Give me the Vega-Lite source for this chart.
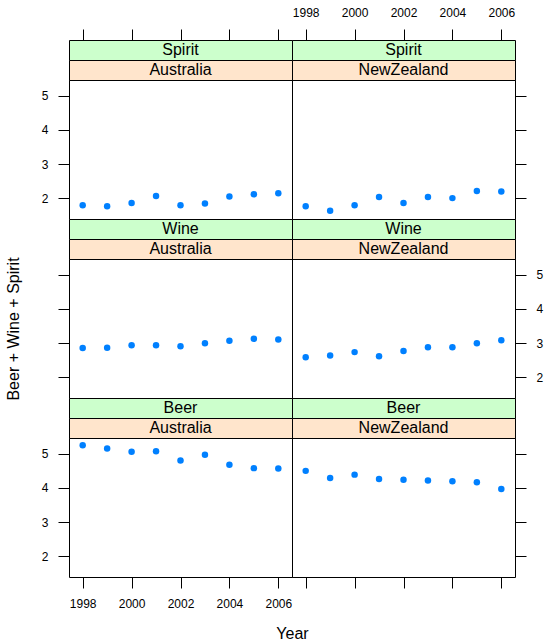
{
  "$schema": "https://vega.github.io/schema/vega-lite/v6.json",
  "padding": {"left": 5, "top": 5, "right": 0, "bottom": 0},
  "background": "white",
  "bounds": "flush",
  "align": "each",
  "spacing": 0,
  "columns": 2,
  "datasets": {
    "d": [
      {"Beverage": "Spirit", "Country": "Australia", "Year": 1998, "Value": 1.80},
      {"Beverage": "Spirit", "Country": "Australia", "Year": 1999, "Value": 1.77},
      {"Beverage": "Spirit", "Country": "Australia", "Year": 2000, "Value": 1.87},
      {"Beverage": "Spirit", "Country": "Australia", "Year": 2001, "Value": 2.07},
      {"Beverage": "Spirit", "Country": "Australia", "Year": 2002, "Value": 1.80},
      {"Beverage": "Spirit", "Country": "Australia", "Year": 2003, "Value": 1.85},
      {"Beverage": "Spirit", "Country": "Australia", "Year": 2004, "Value": 2.06},
      {"Beverage": "Spirit", "Country": "Australia", "Year": 2005, "Value": 2.12},
      {"Beverage": "Spirit", "Country": "Australia", "Year": 2006, "Value": 2.15},
      {"Beverage": "Spirit", "Country": "NewZealand", "Year": 1998, "Value": 1.77},
      {"Beverage": "Spirit", "Country": "NewZealand", "Year": 1999, "Value": 1.64},
      {"Beverage": "Spirit", "Country": "NewZealand", "Year": 2000, "Value": 1.80},
      {"Beverage": "Spirit", "Country": "NewZealand", "Year": 2001, "Value": 2.04},
      {"Beverage": "Spirit", "Country": "NewZealand", "Year": 2002, "Value": 1.87},
      {"Beverage": "Spirit", "Country": "NewZealand", "Year": 2003, "Value": 2.04},
      {"Beverage": "Spirit", "Country": "NewZealand", "Year": 2004, "Value": 2.01},
      {"Beverage": "Spirit", "Country": "NewZealand", "Year": 2005, "Value": 2.22},
      {"Beverage": "Spirit", "Country": "NewZealand", "Year": 2006, "Value": 2.20},
      {"Beverage": "Wine", "Country": "Australia", "Year": 1998, "Value": 2.86},
      {"Beverage": "Wine", "Country": "Australia", "Year": 1999, "Value": 2.87},
      {"Beverage": "Wine", "Country": "Australia", "Year": 2000, "Value": 2.94},
      {"Beverage": "Wine", "Country": "Australia", "Year": 2001, "Value": 2.94},
      {"Beverage": "Wine", "Country": "Australia", "Year": 2002, "Value": 2.91},
      {"Beverage": "Wine", "Country": "Australia", "Year": 2003, "Value": 3.00},
      {"Beverage": "Wine", "Country": "Australia", "Year": 2004, "Value": 3.07},
      {"Beverage": "Wine", "Country": "Australia", "Year": 2005, "Value": 3.13},
      {"Beverage": "Wine", "Country": "Australia", "Year": 2006, "Value": 3.11},
      {"Beverage": "Wine", "Country": "NewZealand", "Year": 1998, "Value": 2.59},
      {"Beverage": "Wine", "Country": "NewZealand", "Year": 1999, "Value": 2.64},
      {"Beverage": "Wine", "Country": "NewZealand", "Year": 2000, "Value": 2.74},
      {"Beverage": "Wine", "Country": "NewZealand", "Year": 2001, "Value": 2.62},
      {"Beverage": "Wine", "Country": "NewZealand", "Year": 2002, "Value": 2.77},
      {"Beverage": "Wine", "Country": "NewZealand", "Year": 2003, "Value": 2.88},
      {"Beverage": "Wine", "Country": "NewZealand", "Year": 2004, "Value": 2.88},
      {"Beverage": "Wine", "Country": "NewZealand", "Year": 2005, "Value": 3.00},
      {"Beverage": "Wine", "Country": "NewZealand", "Year": 2006, "Value": 3.09},
      {"Beverage": "Beer", "Country": "Australia", "Year": 1998, "Value": 5.25},
      {"Beverage": "Beer", "Country": "Australia", "Year": 1999, "Value": 5.15},
      {"Beverage": "Beer", "Country": "Australia", "Year": 2000, "Value": 5.06},
      {"Beverage": "Beer", "Country": "Australia", "Year": 2001, "Value": 5.07},
      {"Beverage": "Beer", "Country": "Australia", "Year": 2002, "Value": 4.80},
      {"Beverage": "Beer", "Country": "Australia", "Year": 2003, "Value": 4.97},
      {"Beverage": "Beer", "Country": "Australia", "Year": 2004, "Value": 4.68},
      {"Beverage": "Beer", "Country": "Australia", "Year": 2005, "Value": 4.58},
      {"Beverage": "Beer", "Country": "Australia", "Year": 2006, "Value": 4.57},
      {"Beverage": "Beer", "Country": "NewZealand", "Year": 1998, "Value": 4.50},
      {"Beverage": "Beer", "Country": "NewZealand", "Year": 1999, "Value": 4.29},
      {"Beverage": "Beer", "Country": "NewZealand", "Year": 2000, "Value": 4.39},
      {"Beverage": "Beer", "Country": "NewZealand", "Year": 2001, "Value": 4.26},
      {"Beverage": "Beer", "Country": "NewZealand", "Year": 2002, "Value": 4.24},
      {"Beverage": "Beer", "Country": "NewZealand", "Year": 2003, "Value": 4.22},
      {"Beverage": "Beer", "Country": "NewZealand", "Year": 2004, "Value": 4.20},
      {"Beverage": "Beer", "Country": "NewZealand", "Year": 2005, "Value": 4.17},
      {"Beverage": "Beer", "Country": "NewZealand", "Year": 2006, "Value": 3.97}
    ]
  },
  "concat": [
    {"width": 223, "height": 20, "data": {"name": "d"},
     "transform": [{"filter": "datum.Beverage === 'Spirit' && datum.Country === 'Australia'"}],
     "view": {"fill": "#CCFFCC", "stroke": "black"},
     "mark": {"type": "text", "fontSize": 16, "font": "Liberation Sans", "color": "black"},
     "encoding": {
       "x": {"aggregate": "mean", "field": "Year", "type": "quantitative", "scale": {"domain": [1997.44, 2006.56], "nice": false, "zero": false},
             "axis": {"orient": "top", "values": [1998, 2000, 2002, 2004, 2006], "labels": false, "title": null}},
       "text": {"field": "Beverage"}}},
    {"width": 223, "height": 20, "data": {"name": "d"},
     "transform": [{"filter": "datum.Beverage === 'Spirit' && datum.Country === 'NewZealand'"}],
     "view": {"fill": "#CCFFCC", "stroke": "black"},
     "mark": {"type": "text", "fontSize": 16, "font": "Liberation Sans", "color": "black"},
     "encoding": {
       "x": {"aggregate": "mean", "field": "Year", "type": "quantitative", "scale": {"domain": [1997.44, 2006.56], "nice": false, "zero": false},
             "axis": {"orient": "top", "values": [1998, 2000, 2002, 2004, 2006], "format": "d", "title": null}},
       "text": {"field": "Beverage"}}},
    {"width": 223, "height": 20, "data": {"name": "d"},
     "transform": [{"filter": "datum.Beverage === 'Spirit' && datum.Country === 'Australia'"}],
     "view": {"fill": "#FFE5CC", "stroke": "black"},
     "mark": {"type": "text", "fontSize": 16, "font": "Liberation Sans", "color": "black"},
     "encoding": {"x": {"aggregate": "mean", "field": "Year", "type": "quantitative", "scale": {"domain": [1997.44, 2006.56], "nice": false, "zero": false}, "axis": null},
       "text": {"field": "Country"}}},
    {"width": 223, "height": 20, "data": {"name": "d"},
     "transform": [{"filter": "datum.Beverage === 'Spirit' && datum.Country === 'NewZealand'"}],
     "view": {"fill": "#FFE5CC", "stroke": "black"},
     "mark": {"type": "text", "fontSize": 16, "font": "Liberation Sans", "color": "black"},
     "encoding": {"x": {"aggregate": "mean", "field": "Year", "type": "quantitative", "scale": {"domain": [1997.44, 2006.56], "nice": false, "zero": false}, "axis": null},
       "text": {"field": "Country"}}},
    {"width": 223, "height": 139, "data": {"name": "d"},
     "transform": [{"filter": "datum.Beverage === 'Spirit' && datum.Country === 'Australia'"}],
     "view": {"stroke": "black"},
     "mark": {"type": "circle", "size": 42, "color": "#0080FF", "opacity": 1},
     "encoding": {
       "x": {"field": "Year", "type": "quantitative", "scale": {"domain": [1997.44, 2006.56], "nice": false, "zero": false}, "axis": null},
       "y": {"field": "Value", "type": "quantitative", "scale": {"domain": [1.4, 5.46], "nice": false, "zero": false},
             "axis": {"orient": "left", "values": [2, 3, 4, 5], "format": "d", "title": null}}}},
    {"width": 223, "height": 139, "data": {"name": "d"},
     "transform": [{"filter": "datum.Beverage === 'Spirit' && datum.Country === 'NewZealand'"}],
     "view": {"stroke": "black"},
     "mark": {"type": "circle", "size": 42, "color": "#0080FF", "opacity": 1},
     "encoding": {
       "x": {"field": "Year", "type": "quantitative", "scale": {"domain": [1997.44, 2006.56], "nice": false, "zero": false}, "axis": null},
       "y": {"field": "Value", "type": "quantitative", "scale": {"domain": [1.4, 5.46], "nice": false, "zero": false},
             "axis": {"orient": "right", "values": [2, 3, 4, 5], "labels": false, "title": null}}}},
    {"width": 223, "height": 20, "data": {"name": "d"},
     "transform": [{"filter": "datum.Beverage === 'Wine' && datum.Country === 'Australia'"}],
     "view": {"fill": "#CCFFCC", "stroke": "black"},
     "mark": {"type": "text", "fontSize": 16, "font": "Liberation Sans", "color": "black"},
     "encoding": {"x": {"aggregate": "mean", "field": "Year", "type": "quantitative", "scale": {"domain": [1997.44, 2006.56], "nice": false, "zero": false}, "axis": null},
       "text": {"field": "Beverage"}}},
    {"width": 223, "height": 20, "data": {"name": "d"},
     "transform": [{"filter": "datum.Beverage === 'Wine' && datum.Country === 'NewZealand'"}],
     "view": {"fill": "#CCFFCC", "stroke": "black"},
     "mark": {"type": "text", "fontSize": 16, "font": "Liberation Sans", "color": "black"},
     "encoding": {"x": {"aggregate": "mean", "field": "Year", "type": "quantitative", "scale": {"domain": [1997.44, 2006.56], "nice": false, "zero": false}, "axis": null},
       "text": {"field": "Beverage"}}},
    {"width": 223, "height": 20, "data": {"name": "d"},
     "transform": [{"filter": "datum.Beverage === 'Wine' && datum.Country === 'Australia'"}],
     "view": {"fill": "#FFE5CC", "stroke": "black"},
     "mark": {"type": "text", "fontSize": 16, "font": "Liberation Sans", "color": "black"},
     "encoding": {"x": {"aggregate": "mean", "field": "Year", "type": "quantitative", "scale": {"domain": [1997.44, 2006.56], "nice": false, "zero": false}, "axis": null},
       "text": {"field": "Country"}}},
    {"width": 223, "height": 20, "data": {"name": "d"},
     "transform": [{"filter": "datum.Beverage === 'Wine' && datum.Country === 'NewZealand'"}],
     "view": {"fill": "#FFE5CC", "stroke": "black"},
     "mark": {"type": "text", "fontSize": 16, "font": "Liberation Sans", "color": "black"},
     "encoding": {"x": {"aggregate": "mean", "field": "Year", "type": "quantitative", "scale": {"domain": [1997.44, 2006.56], "nice": false, "zero": false}, "axis": null},
       "text": {"field": "Country"}}},
    {"width": 223, "height": 139, "data": {"name": "d"},
     "transform": [{"filter": "datum.Beverage === 'Wine' && datum.Country === 'Australia'"}],
     "view": {"stroke": "black"},
     "mark": {"type": "circle", "size": 42, "color": "#0080FF", "opacity": 1},
     "encoding": {
       "x": {"field": "Year", "type": "quantitative", "scale": {"domain": [1997.44, 2006.56], "nice": false, "zero": false}, "axis": null},
       "y": {"field": "Value", "type": "quantitative", "scale": {"domain": [1.4, 5.46], "nice": false, "zero": false},
             "axis": {"orient": "left", "values": [2, 3, 4, 5], "labels": false, "title": "Beer + Wine + Spirit", "titlePadding": 36}}}},
    {"width": 223, "height": 139, "data": {"name": "d"},
     "transform": [{"filter": "datum.Beverage === 'Wine' && datum.Country === 'NewZealand'"}],
     "view": {"stroke": "black"},
     "mark": {"type": "circle", "size": 42, "color": "#0080FF", "opacity": 1},
     "encoding": {
       "x": {"field": "Year", "type": "quantitative", "scale": {"domain": [1997.44, 2006.56], "nice": false, "zero": false}, "axis": null},
       "y": {"field": "Value", "type": "quantitative", "scale": {"domain": [1.4, 5.46], "nice": false, "zero": false},
             "axis": {"orient": "right", "values": [2, 3, 4, 5], "format": "d", "title": null}}}},
    {"width": 223, "height": 20, "data": {"name": "d"},
     "transform": [{"filter": "datum.Beverage === 'Beer' && datum.Country === 'Australia'"}],
     "view": {"fill": "#CCFFCC", "stroke": "black"},
     "mark": {"type": "text", "fontSize": 16, "font": "Liberation Sans", "color": "black"},
     "encoding": {"x": {"aggregate": "mean", "field": "Year", "type": "quantitative", "scale": {"domain": [1997.44, 2006.56], "nice": false, "zero": false}, "axis": null},
       "text": {"field": "Beverage"}}},
    {"width": 223, "height": 20, "data": {"name": "d"},
     "transform": [{"filter": "datum.Beverage === 'Beer' && datum.Country === 'NewZealand'"}],
     "view": {"fill": "#CCFFCC", "stroke": "black"},
     "mark": {"type": "text", "fontSize": 16, "font": "Liberation Sans", "color": "black"},
     "encoding": {"x": {"aggregate": "mean", "field": "Year", "type": "quantitative", "scale": {"domain": [1997.44, 2006.56], "nice": false, "zero": false}, "axis": null},
       "text": {"field": "Beverage"}}},
    {"width": 223, "height": 20, "data": {"name": "d"},
     "transform": [{"filter": "datum.Beverage === 'Beer' && datum.Country === 'Australia'"}],
     "view": {"fill": "#FFE5CC", "stroke": "black"},
     "mark": {"type": "text", "fontSize": 16, "font": "Liberation Sans", "color": "black"},
     "encoding": {"x": {"aggregate": "mean", "field": "Year", "type": "quantitative", "scale": {"domain": [1997.44, 2006.56], "nice": false, "zero": false}, "axis": null},
       "text": {"field": "Country"}}},
    {"width": 223, "height": 20, "data": {"name": "d"},
     "transform": [{"filter": "datum.Beverage === 'Beer' && datum.Country === 'NewZealand'"}],
     "view": {"fill": "#FFE5CC", "stroke": "black"},
     "mark": {"type": "text", "fontSize": 16, "font": "Liberation Sans", "color": "black"},
     "encoding": {"x": {"aggregate": "mean", "field": "Year", "type": "quantitative", "scale": {"domain": [1997.44, 2006.56], "nice": false, "zero": false}, "axis": null},
       "text": {"field": "Country"}}},
    {"width": 223, "height": 139, "data": {"name": "d"},
     "transform": [{"filter": "datum.Beverage === 'Beer' && datum.Country === 'Australia'"}],
     "view": {"stroke": "black"},
     "mark": {"type": "circle", "size": 42, "color": "#0080FF", "opacity": 1},
     "encoding": {
       "x": {"field": "Year", "type": "quantitative", "scale": {"domain": [1997.44, 2006.56], "nice": false, "zero": false},
             "axis": {"orient": "bottom", "values": [1998, 2000, 2002, 2004, 2006], "format": "d", "title": "Year", "titleX": 223, "titlePadding": 16}},
       "y": {"field": "Value", "type": "quantitative", "scale": {"domain": [1.4, 5.46], "nice": false, "zero": false},
             "axis": {"orient": "left", "values": [2, 3, 4, 5], "format": "d", "title": null}}}},
    {"width": 223, "height": 139, "data": {"name": "d"},
     "transform": [{"filter": "datum.Beverage === 'Beer' && datum.Country === 'NewZealand'"}],
     "view": {"stroke": "black"},
     "mark": {"type": "circle", "size": 42, "color": "#0080FF", "opacity": 1},
     "encoding": {
       "x": {"field": "Year", "type": "quantitative", "scale": {"domain": [1997.44, 2006.56], "nice": false, "zero": false},
             "axis": {"orient": "bottom", "values": [1998, 2000, 2002, 2004, 2006], "labels": false, "title": null}},
       "y": {"field": "Value", "type": "quantitative", "scale": {"domain": [1.4, 5.46], "nice": false, "zero": false},
             "axis": {"orient": "right", "values": [2, 3, 4, 5], "labels": false, "title": null}}}}
  ],
  "config": {
    "font": "Liberation Sans",
    "view": {"stroke": "black", "strokeWidth": 1},
    "axis": {
      "labelFont": "Liberation Sans", "titleFont": "Liberation Sans",
      "labelFontSize": 12, "titleFontSize": 16, "titleFontWeight": "normal",
      "labelColor": "black", "titleColor": "black", "tickColor": "black",
      "domain": false, "grid": false, "tickSize": 11, "tickWidth": 1, "labelPadding": 10
    }
  }
}
